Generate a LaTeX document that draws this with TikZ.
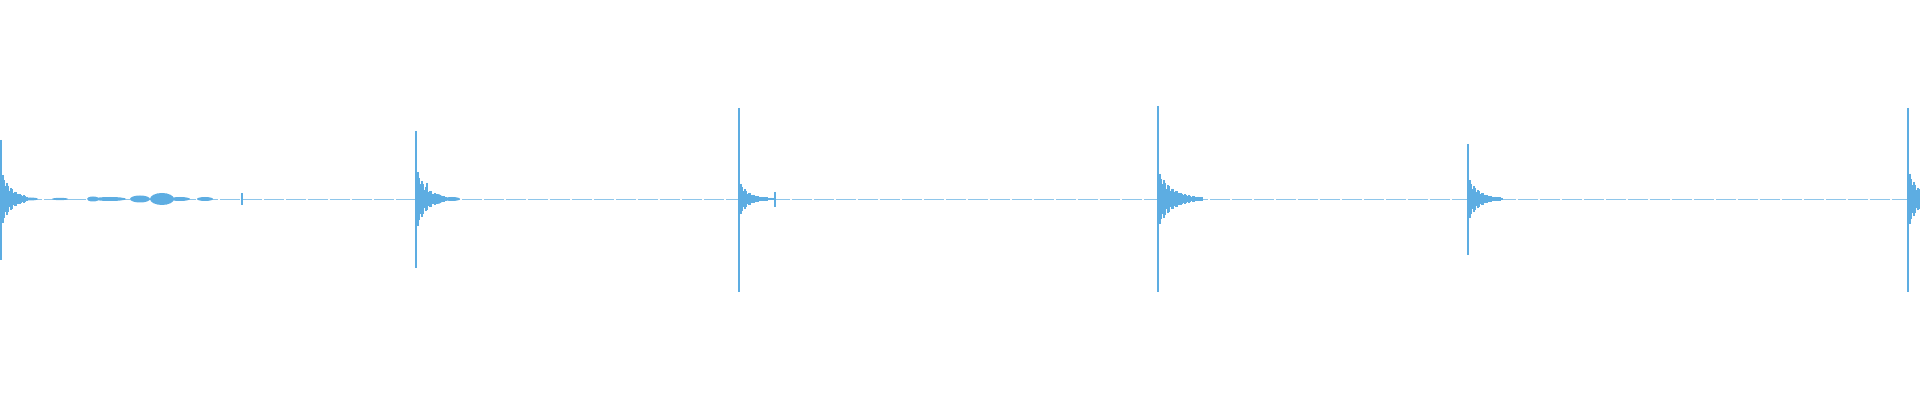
\documentclass[tikz,border=0pt]{standalone}
\begin{document}
\begin{tikzpicture}[x=0.5pt,y=-0.5pt]
\definecolor{wave}{HTML}{5DADE2}
\tikzset{spike/.style={draw=wave,line width=0.6pt},bar/.style={draw=wave,line width=0.55pt}}
\useasboundingbox (0,0) rectangle (1920,400);
\draw[wave!70,line width=0.4pt,dash pattern=on 10pt off 1pt] (0,199) -- (1920,199);
% events: x, top, bottom, amp, decay, count
\foreach \x/\t/\b/\a/\k/\n in {1/140/260/28/10/26, 416/131/268/32/10/30, 739/108/292/18/9/34, 1158/106/292/28/14/44, 1468/144/255/22/10/34, 1908/108/292/30/10/12}{
  \draw[spike] (\x,\t) -- (\x,\b);
  \foreach \i in {1,...,\n}{
    \pgfmathsetmacro\h{\a*(0.35+0.65*abs(sin(\i*137)))*exp(-\i/\k)+0.8}
    \pgfmathsetmacro\xx{\x+\i*1}
    \draw[bar] (\xx,199-\h) -- (\xx,199+\h);
  }
}
% small blobs
\foreach \x/\a/\w in {30/1.5/8, 60/1.2/8, 93/2.5/6, 110/2/16, 140/3.5/10, 162/6/12, 180/2/10, 205/2/8, 437/5/6, 452/2/8, 1190/2/12}{
  \fill[wave] (\x,199) ellipse[x radius=\w, y radius=\a];
}
\draw[bar] (242,193) -- (242,205);
\draw[bar] (775,192) -- (775,207);
\draw[bar] (427,183) -- (427,210);
\end{tikzpicture}
\end{document}
